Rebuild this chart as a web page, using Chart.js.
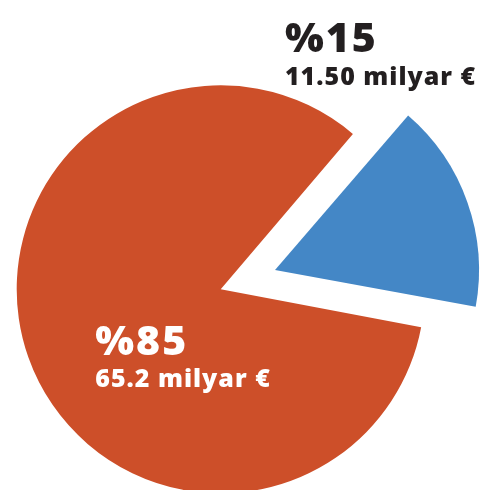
<!DOCTYPE html>
<html>
<head>
<meta charset="utf-8">
<script src="https://cdn.jsdelivr.net/npm/chart.js@4.4.1/dist/chart.umd.min.js"></script>
<style>
  html, body { margin: 0; padding: 0; background: #fff; }
  #wrap { width: 494px; height: 490px; }
</style>
</head>
<body>
<div id="wrap"><canvas id="pieChart"></canvas></div>
<script>
// slice shares as drawn in the picture (blue slice first, clockwise)
const categories = ['Blue', 'Orange'];
const shares = [16.75, 83.25];
const percentLabels = ['%15', '%85'];
const amountLabels = ['11.50 milyar €', '65.2 milyar €'];
const colors = ['#4487C6', '#CD4F29'];

// Chart.js grows an offset arc a little; shrink it back so both slices share one radius
const sameRadius = {
    id: 'sameRadius',
    beforeDatasetsDraw(chart) {
        const r = chart.getDatasetMeta(0).controller.outerRadius;
        chart.getDatasetMeta(0).data.forEach(arc => {
            const off = (arc.options.offset || 0) / 4;
            const fix = 1 - Math.sin(Math.min(Math.PI, arc.circumference));
            arc.outerRadius = r - off * fix;
        });
    }
};

// text next to / on the slices, placed relative to the pie centre and radius
const sliceText = {
    id: 'sliceText',
    afterDatasetsDraw(chart) {
        const arcs = chart.getDatasetMeta(0).data;
        const cx = arcs[1].x, cy = arcs[1].y, r = arcs[1].outerRadius;
        const ctx = chart.ctx;
        const spots = [
            { x: cx + 0.315 * r, y1: cy - 1.163 * r, y2: cy - 1.0 * r, color: '#231F20' },
            { x: cx - 0.615 * r, y1: cy + 0.32 * r, y2: cy + 0.48 * r, color: '#ffffff' },
        ];
        ctx.save();
        ctx.textAlign = 'left';
        ctx.textBaseline = 'alphabetic';
        spots.forEach((s, i) => {
            ctx.fillStyle = s.color;
            ctx.font = '800 41px "Open Sans"';
            ctx.letterSpacing = '2px';
            ctx.fillText(percentLabels[i], s.x, s.y1);
            ctx.font = '800 25px "Open Sans"';
            ctx.letterSpacing = '1px';
            ctx.fillText(amountLabels[i], s.x, s.y2);
        });
        ctx.restore();
    }
};

new Chart(document.getElementById('pieChart'), {
    type: 'pie',
    plugins: [sameRadius, sliceText],
    data: {
        labels: categories,
        datasets: [{
            data: shares,
            backgroundColor: colors,
            borderWidth: 0,
            // Chart.js moves an arc by a quarter of this value
            offset: [230.4, 0],
            hoverOffset: 0
        }]
    },
    options: {
        responsive: true,
        maintainAspectRatio: false,
        animation: false,
        rotation: 40.4,
        radius: 204,
        layout: { padding: { left: 0, right: 52.6, top: 88.6, bottom: 0 } },
        plugins: {
            legend: { display: false },
            tooltip: { enabled: false }
        }
    }
});
</script>
</body>
</html>
